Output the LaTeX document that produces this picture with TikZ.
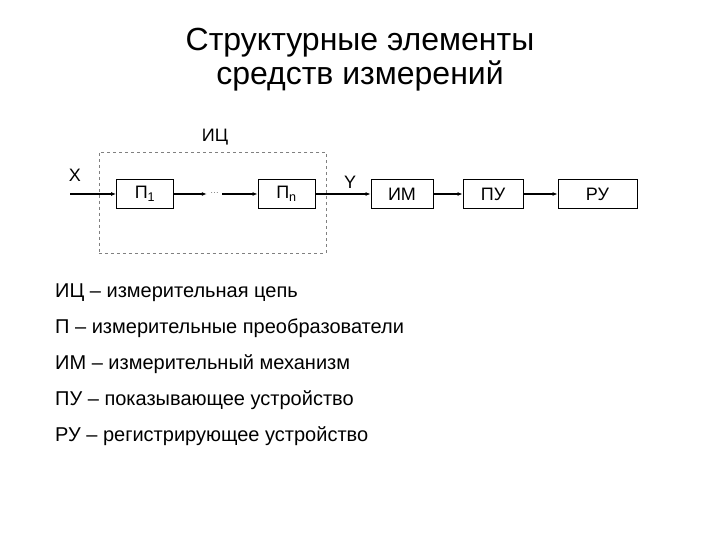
\documentclass[tikz,border=0pt]{standalone}
\usepackage{fontspec}
\setmainfont{Liberation Sans}
\usetikzlibrary{arrows.meta,positioning,fit}

\begin{document}
\begin{tikzpicture}[
  x=1bp,y=-1bp,
  blk/.style={draw,thick,minimum height=29bp,font=\fontsize{18bp}{20bp}\selectfont,inner sep=0pt},
  arr/.style={-{Latex[length=5bp,width=4bp]},line width=1.3bp},
  lbl/.style={font=\fontsize{18bp}{20bp}\selectfont},
  leg/.style={anchor=west,font=\fontsize{20bp}{23bp}\selectfont,inner sep=0pt}]
\useasboundingbox (0,0) rectangle (720,540);
% title
\node[align=center,font=\fontsize{32bp}{34bp}\selectfont] (title) at (360,60)
  {Структурные элементы\\средств измерений};
% measuring circuit
\node[draw,dashed,gray,minimum width=227bp,minimum height=101bp] (ic) at (212.5,202.5) {};
\node[lbl] (iclbl) at (215,137) {ИЦ};
\node[blk,minimum width=57bp] (p1) at (145,194) {П\textsubscript{1}};
\node[font=\small,text=black!55,minimum width=15bp,inner sep=0pt] (dots) at (214.5,193) {\dots};
\node[blk,minimum width=57bp] (pn) at (286.5,194) {П\textsubscript{n}};
\node[blk,minimum width=62bp] (im) at (402,194) {ИМ};
\node[blk,minimum width=60bp] (pu) at (493,194) {ПУ};
\node[blk,minimum width=79bp] (ru) at (597.5,194) {РУ};
\coordinate (xin) at (70,194);
\node[lbl] (xlbl) at (75,175) {X};
\node[lbl] (ylbl) at (350,182) {Y};
\draw[arr] (xin) -- (p1);
\draw[arr] (p1) -- (p1 -| dots.west);
\draw[arr] (pn -| dots.east) -- (pn);
\draw[arr] (pn) -- (im);
\draw[arr] (im) -- (pu);
\draw[arr] (pu) -- (ru);
% legend
\node[leg] (l1) at (55,293) {ИЦ – измерительная цепь};
\node[leg] (l2) at (55,328) {П – измерительные преобразователи};
\node[leg] (l3) at (55,364) {ИМ – измерительный механизм};
\node[leg] (l4) at (55,400) {ПУ – показывающее устройство};
\node[leg] (l5) at (55,436) {РУ – регистрирующее устройство};
\end{tikzpicture}
\end{document}
